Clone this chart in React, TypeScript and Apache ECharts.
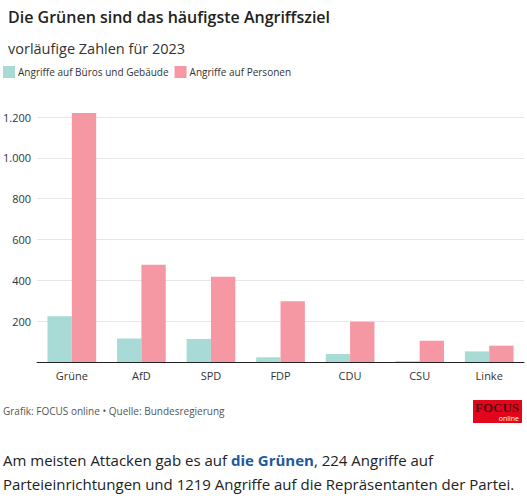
import React, { useEffect, useRef } from "react";
import * as echarts from "echarts";

const categories = ["Grüne", "AfD", "SPD", "FDP", "CDU", "CSU", "Linke"];
const buildings = [224, 115, 113, 23, 39, 4, 52];
const persons = [1219, 476, 418, 297, 197, 104, 80];
const seriesNames = ["Angriffe auf Büros und Gebäude", "Angriffe auf Personen"];
const colors = ["#a8dbd6", "#f598a4"];

const titleText = "Die Grünen sind das häufigste Angriffsziel";
const subtitleText = "vorläufige Zahlen für 2023";
const sourceText = "Grafik: FOCUS online • Quelle: Bundesregierung";

const FONT = "'Open Sans', 'Noto Sans', sans-serif";

export default function App() {
  const ref = useRef<HTMLDivElement>(null);
  useEffect(() => {
    if (!ref.current) return;
    const chart = echarts.init(ref.current, null, { renderer: "svg" });
    chart.setOption({
      animation: false,
      backgroundColor: "#ffffff",
      textStyle: { fontFamily: FONT },
      title: [
        {
          text: titleText,
          left: 3,
          top: 4,
          textStyle: { fontFamily: FONT, fontSize: 16, fontWeight: 600, color: "#222" },
        },
        {
          text: subtitleText,
          left: 3,
          top: 36,
          textStyle: { fontFamily: FONT, fontSize: 14.5, fontWeight: "normal", color: "#333" },
        },
      ],
      legend: {
        left: 3,
        top: 66,
        itemWidth: 12,
        itemHeight: 12,
        itemGap: 6,
        icon: "rect",
        textStyle: { fontFamily: FONT, fontSize: 10, color: "#333", padding: [0, 0, 0, -2] },
        padding: 0,
        data: seriesNames,
      },
      grid: { left: 34, right: 3, top: 117, bottom: 138, containLabel: false },
      xAxis: {
        type: "category",
        data: categories,
        axisLine: { lineStyle: { color: "#222", width: 1 } },
        axisTick: { show: false },
        axisLabel: { fontFamily: FONT, fontSize: 11, color: "#333", margin: 8 },
      },
      yAxis: {
        type: "value",
        min: 0,
        max: 1200,
        interval: 200,
        axisLine: { show: false },
        axisTick: { show: false },
        splitLine: { lineStyle: { color: "#e6e6e6" } },
        axisLabel: {
          fontFamily: FONT,
          fontSize: 11,
          color: "#333",
          margin: 6,
          showMinLabel: false,
          formatter: (v: number) => String(v).replace(/\B(?=(\d{3})+(?!\d))/g, "."),
        },
      },
      series: [
        {
          name: seriesNames[0],
          type: "bar",
          data: buildings,
          itemStyle: { color: colors[0] },
          barGap: "0%",
          barCategoryGap: "30%",
          clip: false,
        },
        {
          name: seriesNames[1],
          type: "bar",
          data: persons,
          itemStyle: { color: colors[1] },
          barGap: "0%",
          barCategoryGap: "30%",
          clip: false,
        },
      ],
      graphic: [
        {
          type: "text",
          left: 3,
          top: 406,
          style: { text: sourceText, fontFamily: FONT, fontSize: 10, fill: "#555" },
        },
        {
          type: "group",
          left: 473,
          top: 400,
          children: [
            { type: "rect", shape: { x: 0, y: 0, width: 49, height: 23 }, style: { fill: "#e3051b" } },
            {
              type: "text",
              x: 24,
              y: 1,
              style: {
                text: "FOCUS",
                fontFamily: "'Liberation Serif', serif",
                fontSize: 13,
                lineHeight: 13,
                fontWeight: "bold",
                fill: "#5a0a10",
                align: "center",
              },
            },
            {
              type: "text",
              x: 46,
              y: 15,
              style: {
                text: "online",
                fontFamily: FONT,
                fontSize: 7,
                lineHeight: 7,
                fill: "#ffffff",
                align: "right",
              },
            },
          ],
        },
        {
          type: "text",
          left: 3,
          top: 452,
          style: {
            text: "Am meisten Attacken gab es auf {b|die Grünen}, 224 Angriffe auf",
            fontFamily: FONT,
            fontSize: 15,
            fill: "#222",
            rich: {
              b: { fontFamily: FONT, fontSize: 15, fontWeight: "bold", fill: "#1c5a9c" },
            },
          },
        },
        {
          type: "text",
          left: 3,
          top: 476,
          style: {
            text: "Parteieinrichtungen und 1219 Angriffe auf die Repräsentanten der Partei.",
            fontFamily: FONT,
            fontSize: 15,
            fill: "#222",
          },
        },
      ],
    });
    return () => chart.dispose();
  }, []);
  return (
    <div
      ref={ref}
      style={{ position: "absolute", left: 0, top: 0, width: 527, height: 500 }}
    />
  );
}
